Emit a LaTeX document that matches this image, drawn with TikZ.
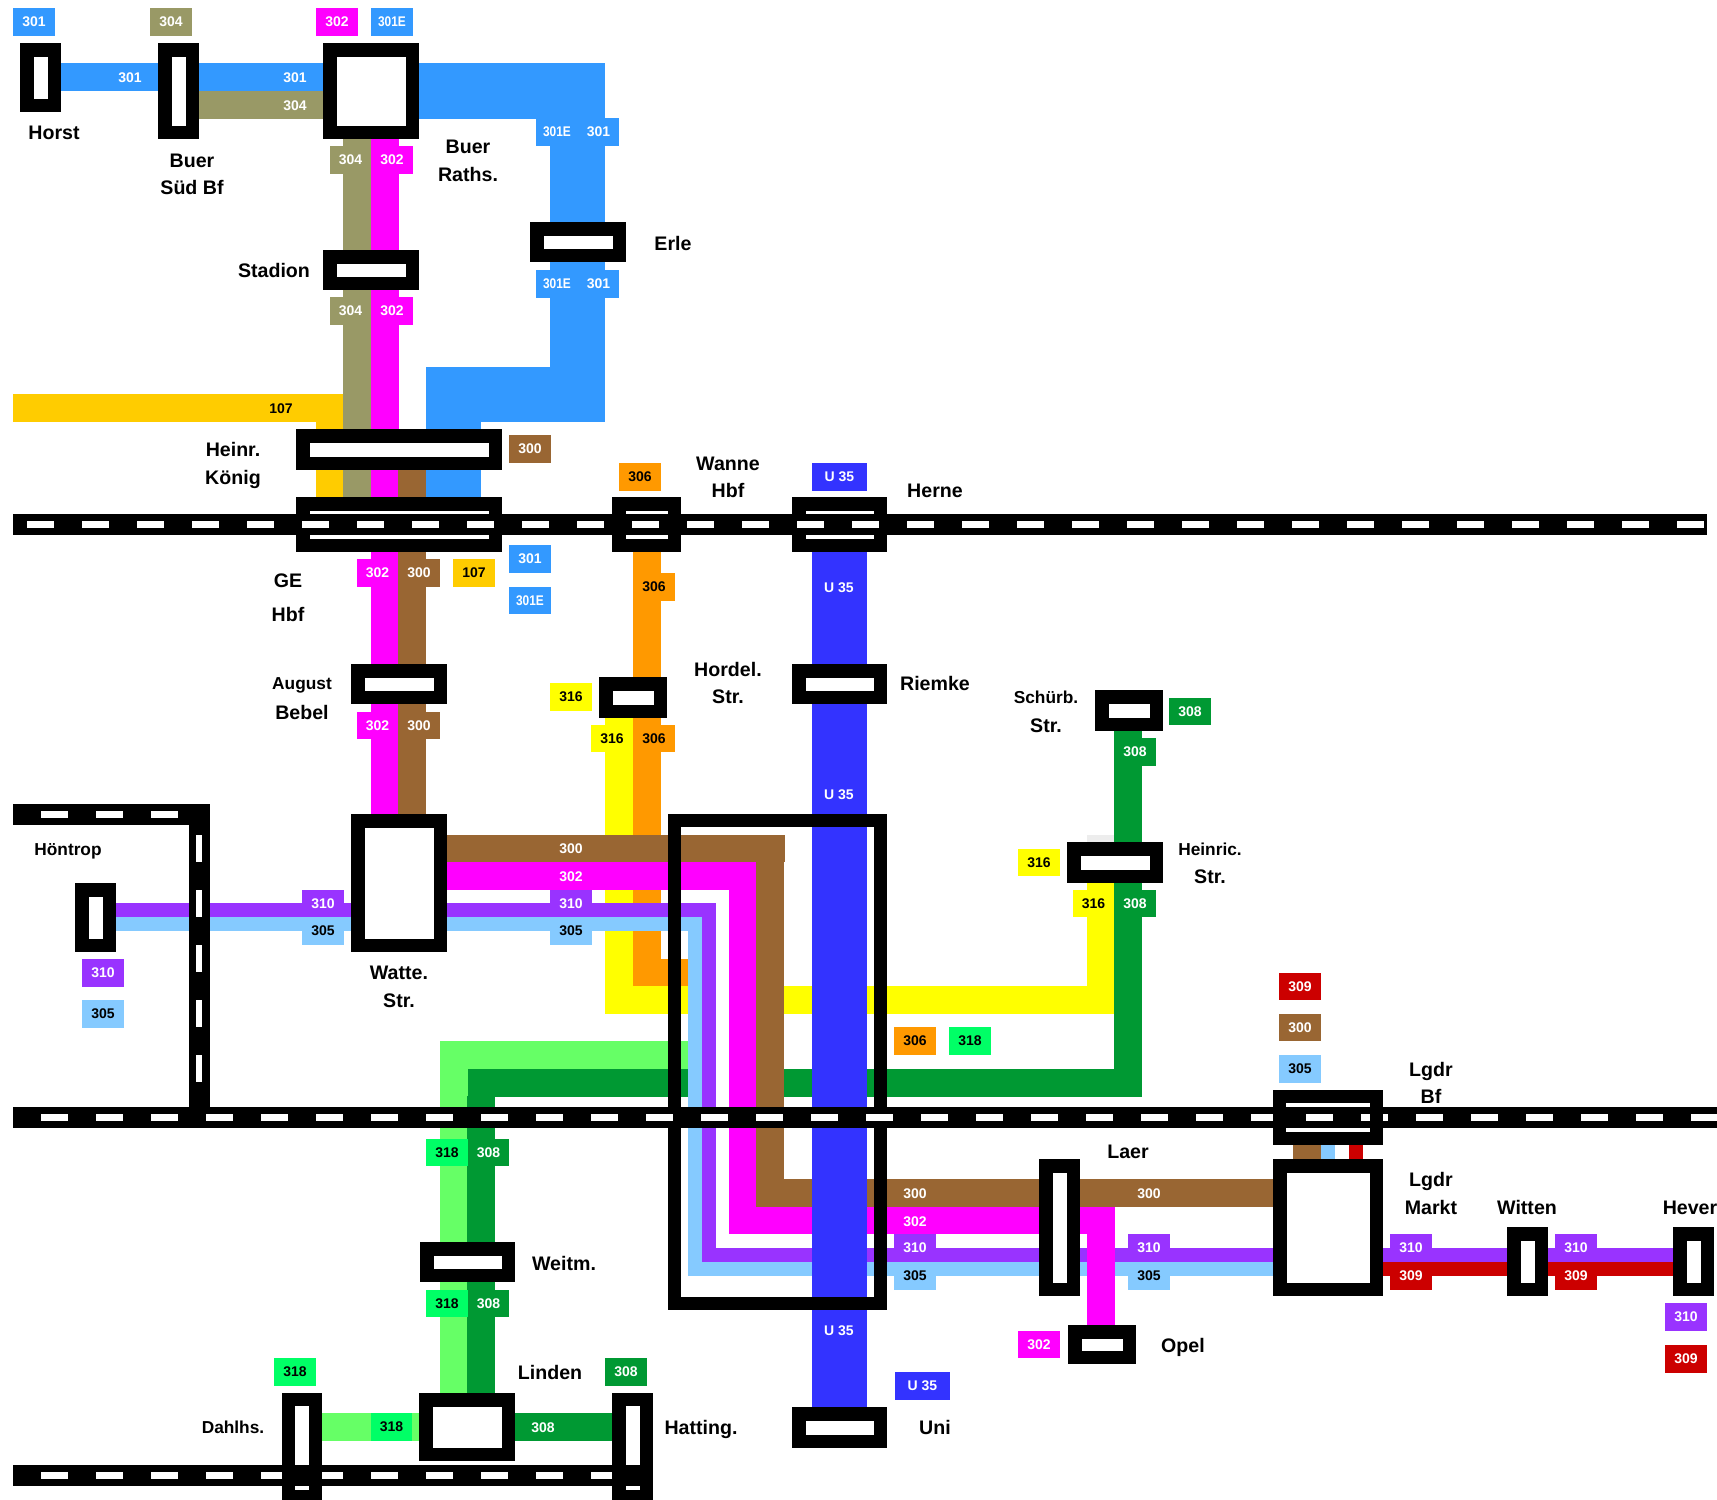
\documentclass[tikz,border=0pt]{standalone}
\usepackage{fontspec}
\setmainfont{Liberation Sans}
\definecolor{cBlue}{HTML}{3399FF}
\definecolor{cOlive}{HTML}{999966}
\definecolor{cMag}{HTML}{FF00FF}
\definecolor{cGold}{HTML}{FFCC00}
\definecolor{cBrown}{HTML}{996633}
\definecolor{cOrange}{HTML}{FF9900}
\definecolor{cYellow}{HTML}{FFFF00}
\definecolor{cU}{HTML}{3333FF}
\definecolor{cDGreen}{HTML}{009933}
\definecolor{cLGreen}{HTML}{66FF66}
\definecolor{cSpring}{HTML}{00FF66}
\definecolor{cPurple}{HTML}{9933FF}
\definecolor{cLBlue}{HTML}{85CAFF}
\definecolor{cRed}{HTML}{CC0000}
\newcommand{\RR}[5]{\fill[#1] (#2,#3) rectangle (#4,#5);}
\newcommand{\ST}[5]{\node[stn,minimum width={#4-#2-13.5},minimum height={#5-#3-13.5}] (#1) at ({(#2+#4)/2},{(#3+#5)/2}) {};}
\newcommand{\SO}[5]{\node[stn,fill=none,minimum width={#4-#2-13},minimum height={#5-#3-13}] (#1) at ({(#2+#4)/2},{(#3+#5)/2}) {};}
\newcommand{\LB}[8]{\node[lab,fill=#2,text=#3,minimum width={#6-#4},minimum height={#7-#5}] (#1) at ({(#4+#6)/2},{(#5+#7)/2}) {#8};}
\newcommand{\TX}[5]{\node[tx,text=#4,text height=#5*0.72pt,font=\fontsize{#5}{#5}\bfseries\selectfont] (#1) at #2 {#3};}
\newcommand{\HB}[4]{\fill[black] (#2,{#1-10.5}) rectangle (#3,{#1+10.5});
  \draw[white,line width=6.5pt,dash pattern=on 27pt off 28pt] (#4,#1) -- (#3,#1);}
\newcommand{\EE}{\scalebox{0.85}[1]{301E}}
\tikzset{
  x=1pt,y=-1pt,
  stn/.style={draw=black,fill=white,line width=13.5pt,inner sep=0pt,outer sep=0pt,shape=rectangle},
  lab/.style={inner sep=0pt,outer sep=0pt,shape=rectangle,font=\fontsize{14}{14}\bfseries\selectfont},
  tx/.style={inner sep=0pt,outer sep=0pt,text depth=0pt}
}
\begin{document}
\begin{tikzpicture}
\clip (0,0) rectangle (1717,1500);
\fill[white] (0,0) rectangle (1717,1500);
% upper lines
\RR{cBlue}{61}{63}{158}{91}
\RR{cBlue}{199}{63}{323}{91}
\RR{cOlive}{199}{91}{323}{119}
\RR{cBlue}{419}{63}{605}{119}
\RR{cBlue}{550}{119}{605}{422}
\RR{cBlue}{426}{367}{605}{422}
\RR{cBlue}{426}{422}{481}{497}
\RR{cGold}{13}{394}{343}{422}
\RR{cGold}{316}{422}{343}{497}
\RR{cOlive}{343}{139}{371}{497}
\RR{cMag}{371}{139}{399}{440}
\RR{cMag}{371}{440}{398}{814}
\RR{cBrown}{398}{456}{426}{814}
\fill[black!7] (1087,835) rectangle (1114,842);
% yellow, orange
\RR{cYellow}{605}{718}{633}{1014}
\RR{cYellow}{605}{986}{688}{1014}
\RR{cYellow}{784}{986}{1114}{1014}
\RR{cYellow}{1087}{883}{1114}{1014}
\RR{cOrange}{633}{552}{661}{986}
\RR{cOrange}{633}{959}{688}{986}
% greens
\RR{cLGreen}{440}{1041}{688}{1069}
\RR{cLGreen}{440}{1041}{467.5}{1393}
\RR{cDGreen}{467.5}{1069}{688}{1097}
\RR{cDGreen}{467}{1096}{495}{1393}
\RR{cDGreen}{784}{1069}{1142}{1097}
\RR{cDGreen}{1114}{731}{1142}{1097}
\RR{cLGreen}{322}{1413}{419}{1441}
\RR{cDGreen}{515}{1413}{613}{1441}
% purple, light blue
\RR{cPurple}{116}{903}{351}{917}
\RR{cLBlue}{116}{917}{351}{931}
\RR{cPurple}{447}{903}{716}{917}
\RR{cLBlue}{447}{917}{702}{931}
\RR{cPurple}{702}{903}{716}{1262}
\RR{cLBlue}{688}{917}{702}{1276}
\RR{cPurple}{702}{1248}{1273}{1262}
\RR{cLBlue}{688}{1262}{1273}{1276}
\RR{cPurple}{1383}{1248}{1673}{1262}
\RR{cRed}{1383}{1262}{1673}{1276}
% magenta, brown
\RR{cMag}{447}{862}{756}{890}
\RR{cMag}{729}{862}{756}{1234}
\RR{cMag}{729}{1206}{1115}{1234}
\RR{cMag}{1087}{1206}{1115}{1325}
\RR{cBrown}{447}{835}{785}{862}
\RR{cBrown}{756}{835}{784}{1207}
\RR{cBrown}{756}{1179}{1273}{1207}
\RR{cBrown}{1293}{1145}{1321}{1159}
\RR{cLBlue}{1321}{1145}{1335}{1159}
\RR{cRed}{1349}{1145}{1363}{1159}
% U35
\RR{cU}{812}{552}{867}{1408}
% boxes on lines
\LB{l1}{cBlue}{white}{13}{8}{55}{36}{301}
\LB{l2}{cOlive}{white}{150}{8}{192}{36}{304}
\LB{l3}{cMag}{white}{316}{8}{358}{36}{302}
\LB{l4}{cBlue}{white}{371}{8}{413}{36}{\EE}
\LB{l5}{cOlive}{white}{330}{146}{371}{174}{304}
\LB{l6}{cMag}{white}{371}{146}{413}{174}{302}
\LB{l7}{cOlive}{white}{330}{297}{371}{325}{304}
\LB{l8}{cMag}{white}{371}{297}{413}{325}{302}
\LB{l9}{cBlue}{white}{536}{118}{578}{146}{\EE}
\LB{l10}{cBlue}{white}{578}{118}{619}{146}{301}
\LB{l11}{cBlue}{white}{536}{270}{578}{298}{\EE}
\LB{l12}{cBlue}{white}{578}{270}{619}{298}{301}
\LB{l13}{cBrown}{white}{509}{435}{551}{463}{300}
\LB{l14}{cOrange}{black}{619}{463}{661}{491}{306}
\LB{l15}{cU}{white}{812}{463}{867}{491}{U 35}
\LB{l16}{cMag}{white}{357}{559}{398}{587}{302}
\LB{l17}{cBrown}{white}{398}{559}{440}{587}{300}
\LB{l18}{cGold}{black}{453}{559}{495}{587}{107}
\LB{l19}{cBlue}{white}{509}{545}{551}{573}{301}
\LB{l20}{cBlue}{white}{509}{587}{551}{614}{\EE}
\LB{l21}{cOrange}{black}{633}{573}{675}{601}{306}
\LB{l22}{cYellow}{black}{550}{683}{592}{711}{316}
\LB{l23}{cYellow}{black}{591}{725}{633}{752}{316}
\LB{l24}{cOrange}{black}{633}{725}{675}{752}{306}
\LB{l25}{cMag}{white}{357}{712}{398}{739}{302}
\LB{l26}{cBrown}{white}{398}{712}{440}{739}{300}
\LB{l27}{cDGreen}{white}{1169}{698}{1211}{725}{308}
\LB{l28}{cDGreen}{white}{1114}{738}{1156}{766}{308}
\LB{l29}{cYellow}{black}{1018}{849}{1060}{876}{316}
\LB{l30}{cYellow}{black}{1073}{890}{1114}{917}{316}
\LB{l31}{cDGreen}{white}{1114}{890}{1156}{917}{308}
\LB{l32}{cPurple}{white}{302}{890}{344}{917}{310}
\LB{l33}{cLBlue}{black}{302}{917}{344}{945}{305}
\LB{l34}{cPurple}{white}{550}{890}{592}{917}{310}
\LB{l35}{cLBlue}{black}{550}{917}{592}{945}{305}
\LB{l36}{cPurple}{white}{82}{959}{124}{987}{310}
\LB{l37}{cLBlue}{black}{82}{1000}{124}{1028}{305}
\LB{l38}{cRed}{white}{1279}{973}{1321}{1000}{309}
\LB{l39}{cBrown}{white}{1279}{1014}{1321}{1041}{300}
\LB{l40}{cLBlue}{black}{1279}{1055}{1321}{1083}{305}
\LB{l41}{cOrange}{black}{894}{1027}{936}{1055}{306}
\LB{l42}{cSpring}{black}{949}{1027}{991}{1055}{318}
\LB{l43}{cSpring}{black}{426}{1139}{468}{1166}{318}
\LB{l44}{cDGreen}{white}{468}{1139}{509}{1166}{308}
\LB{l45}{cSpring}{black}{426}{1290}{468}{1317}{318}
\LB{l46}{cDGreen}{white}{468}{1290}{509}{1317}{308}
\LB{l47}{cSpring}{black}{274}{1358}{316}{1386}{318}
\LB{l48}{cDGreen}{white}{605}{1358}{647}{1386}{308}
\LB{l49}{cSpring}{black}{371}{1413}{412}{1441}{318}
\LB{l50}{cPurple}{white}{894}{1234}{936}{1262}{310}
\LB{l51}{cLBlue}{black}{894}{1262}{936}{1290}{305}
\LB{l52}{cPurple}{white}{1128}{1234}{1170}{1262}{310}
\LB{l53}{cLBlue}{black}{1128}{1262}{1170}{1290}{305}
\LB{l54}{cPurple}{white}{1390}{1234}{1432}{1262}{310}
\LB{l55}{cRed}{white}{1390}{1262}{1432}{1290}{309}
\LB{l56}{cPurple}{white}{1555}{1234}{1597}{1262}{310}
\LB{l57}{cRed}{white}{1555}{1262}{1597}{1290}{309}
\LB{l58}{cPurple}{white}{1665}{1303}{1707}{1331}{310}
\LB{l59}{cRed}{white}{1665}{1345}{1707}{1373}{309}
\LB{l60}{cMag}{white}{1018}{1331}{1060}{1358}{302}
\LB{l61}{cU}{white}{895}{1372}{950}{1400}{U 35}
% stations
\ST{horst}{20}{43}{61}{112}
\ST{buersued}{158}{43}{199}{139}
\ST{buerraths}{323}{43}{419}{139}
\ST{stadion}{323}{250}{419}{290}
\ST{erle}{530}{222}{626}{262}
\ST{koenig}{296}{429}{502}{470}
\ST{gehbf}{296}{497}{502}{552}
\ST{wanne}{612}{497}{681}{552}
\ST{herne}{792}{497}{887}{552}
\ST{bebel}{351}{664}{447}{704}
\ST{riemke}{792}{664}{887}{704}
\ST{hordel}{599}{677}{667}{718}
\ST{schuerb}{1095}{690}{1163}{731}
\ST{heinric}{1067}{842}{1163}{883}
\ST{watte}{351}{814}{447}{952}
\ST{hoentrop}{75}{883}{116}{952}
\ST{weitm}{420}{1242}{515}{1282}
\ST{linden}{419}{1393}{515}{1461}
\ST{laer}{1039}{1159}{1080}{1296}
\ST{opel}{1068}{1325}{1136}{1364}
\ST{uni}{792}{1407}{887}{1448}
\ST{lgdrmarkt}{1273}{1159}{1383}{1296}
\ST{wittenst}{1507}{1227}{1548}{1296}
\ST{hever}{1673}{1227}{1714}{1296}
% large frame
\node[draw=black,line width=13pt,inner sep=0pt,outer sep=0pt,shape=rectangle,minimum width=206.5pt,minimum height=483pt] (frame) at (777.25,1062) {};
% tracks
\HB{524.5}{13}{1707}{27}
\fill[black] (13,804) rectangle (210,825);
\draw[white,line width=6.5pt,dash pattern=on 27pt off 28pt] (41,814.5) -- (179,814.5);
\fill[black] (189,804) rectangle (210,1110);
\draw[white,line width=6.5pt,dash pattern=on 27pt off 28pt] (199,835) -- (199,1084);
\HB{1117.5}{13}{1717}{41}
\HB{1475.5}{13}{653}{41}
% stations whose frames lie over a track
\SO{lgdrbf}{1273}{1090}{1383}{1145}
\SO{dahlhs}{282}{1393}{322}{1503}
\SO{hatting}{612.5}{1393}{653}{1503}
% texts on lines
\TX{t1}{(130,77)}{301}{white}{14}
\TX{t2}{(295,77)}{301}{white}{14}
\TX{t3}{(295,105)}{304}{white}{14}
\TX{t4}{(281,408)}{107}{black}{14}
\TX{t5}{(839,587)}{U 35}{white}{14}
\TX{t6}{(839,794)}{U 35}{white}{14}
\TX{t7}{(839,1330)}{U 35}{white}{14}
\TX{t8}{(571,848)}{300}{white}{14}
\TX{t9}{(571,876)}{302}{white}{14}
\TX{t10}{(915,1193)}{300}{white}{14}
\TX{t11}{(915,1221)}{302}{white}{14}
\TX{t12}{(1149,1193)}{300}{white}{14}
\TX{t13}{(543,1427)}{308}{white}{14}
% names
\TX{n1}{(54,132)}{Horst}{black}{19.6}
\TX{n2}{(192,160)}{Buer}{black}{19.6}
\TX{n3}{(192,187)}{Süd Bf}{black}{19.6}
\TX{n4}{(468,146)}{Buer}{black}{19.6}
\TX{n5}{(468,174)}{Raths.}{black}{19.6}
\TX{n6}{(274,270)}{Stadion}{black}{19.6}
\TX{n7}{(673,243)}{Erle}{black}{19.6}
\TX{n8}{(233,449)}{Heinr.}{black}{19.6}
\TX{n9}{(233,477)}{König}{black}{19.6}
\TX{n10}{(288,580)}{GE}{black}{19.6}
\TX{n11}{(288,614)}{Hbf}{black}{19.6}
\TX{n12}{(728,463)}{Wanne}{black}{19.6}
\TX{n13}{(728,490)}{Hbf}{black}{19.6}
\TX{n14}{(935,490)}{Herne}{black}{19.6}
\TX{n15}{(728,669)}{Hordel.}{black}{19.6}
\TX{n16}{(728,696)}{Str.}{black}{19.6}
\TX{n17}{(935,683)}{Riemke}{black}{19.6}
\TX{n18}{(302,683)}{August}{black}{17.3}
\TX{n19}{(302,712)}{Bebel}{black}{19.6}
\TX{n20}{(1046,697)}{Schürb.}{black}{17.3}
\TX{n21}{(1046,725)}{Str.}{black}{19.6}
\TX{n22}{(1210,849)}{Heinric.}{black}{17.3}
\TX{n23}{(1210,876)}{Str.}{black}{19.6}
\TX{n24}{(68,849)}{Höntrop}{black}{17.3}
\TX{n25}{(399,972)}{Watte.}{black}{19.6}
\TX{n26}{(399,1000)}{Str.}{black}{19.6}
\TX{n27}{(1431,1069)}{Lgdr}{black}{19.6}
\TX{n28}{(1431,1096)}{Bf}{black}{19.6}
\TX{n29}{(1128,1151)}{Laer}{black}{19.6}
\TX{n30}{(1431,1179)}{Lgdr}{black}{19.6}
\TX{n31}{(1431,1207)}{Markt}{black}{19.6}
\TX{n32}{(1527,1207)}{Witten}{black}{19.6}
\TX{n33}{(1690,1207)}{Hever}{black}{19.6}
\TX{n34}{(564,1263)}{Weitm.}{black}{19.6}
\TX{n35}{(1183,1345)}{Opel}{black}{19.6}
\TX{n36}{(550,1372)}{Linden}{black}{19.6}
\TX{n37}{(233,1427)}{Dahlhs.}{black}{17.3}
\TX{n38}{(701,1427)}{Hatting.}{black}{19.6}
\TX{n39}{(935,1427)}{Uni}{black}{19.6}
\end{tikzpicture}
\end{document}
